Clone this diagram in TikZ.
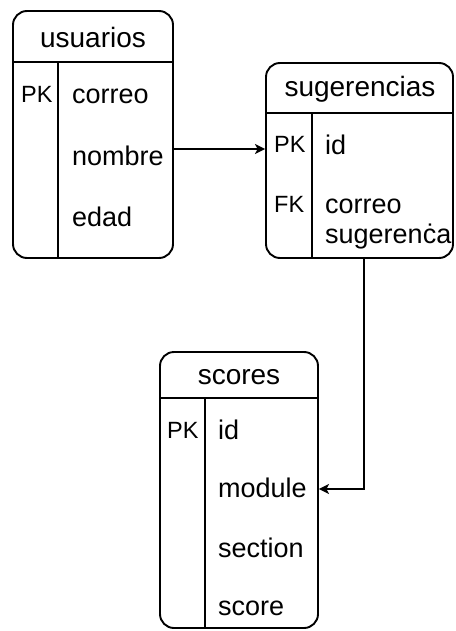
\documentclass[tikz,border=0pt]{standalone}
\usepackage{fontspec}
\setmainfont{Liberation Sans}
\usetikzlibrary{arrows.meta}
\begin{document}
\begin{tikzpicture}[x=1pt,y=-1pt,
  tbl/.style={draw, line width=1.9pt, rounded corners=14pt, inner sep=0pt},
  field/.style={anchor=base west, inner sep=0pt, font=\fontsize{27}{31}\selectfont},
  keycol/.style={anchor=base west, inner sep=0pt, font=\fontsize{23.5}{27}\selectfont},
  title/.style={anchor=base, inner sep=0pt, font=\fontsize{28}{32}\selectfont},
  rule/.style={line width=1.9pt},
  link/.style={line width=1.9pt, -{Stealth[length=10pt,width=10pt,inset=2.5pt]}}]
\useasboundingbox (0,0) rectangle (455,631);

% usuarios
\node[tbl, minimum width=160pt, minimum height=247pt] (usuarios) at (93,134.5) {};
\draw[rule] (usuarios.west |- 0,62) -- (usuarios.east |- 0,62);
\draw[rule] (58,62) -- (usuarios.south -| 58,0);
\node[title] (uT) at (93,48) {usuarios};
\node[keycol] (uPK) at (21,103) {PK};
\node[field] (uF1) at (72,104) {correo};
\node[field] (uF2) at (72,165) {nombre};
\node[field] (uF3) at (72,226) {edad};

% sugerencias
\node[tbl, minimum width=187pt, minimum height=195pt] (sugerencias) at (359.5,160.5) {};
\draw[rule] (sugerencias.west |- 0,113) -- (sugerencias.east |- 0,113);
\draw[rule] (312,113) -- (sugerencias.south -| 312,0);
\node[title] (sT) at (360,97) {sugerencias};
\node[keycol] (sPK) at (274,153) {PK};
\node[field] (sF1) at (325,155) {id};
\node[keycol] (sFK) at (274,212) {FK};
\node[field] (sF2) at (325,213) {correo};
\node[field] (sF3) at (325,243) {sugerenċa};

% scores
\node[tbl, minimum width=158pt, minimum height=276pt] (scores) at (239,490) {};
\draw[rule] (scores.west |- 0,398) -- (scores.east |- 0,398);
\draw[rule] (205,398) -- (scores.south -| 205,0);
\node[title] (cT) at (239,384) {scores};
\node[keycol] (cPK) at (167,438) {PK};
\node[field] (cF1) at (218,439) {id};
\node[field] (cF2) at (218,497) {module};
\node[field] (cF3) at (218,557) {section};
\node[field] (cF4) at (218,615) {score};

% relations
\draw[link] (usuarios.east |- 0,149) -- (sugerencias.west |- 0,149);
\draw[link] (sugerencias.south -| 364,0) |- (scores.east |- 0,489);
\end{tikzpicture}
\end{document}
